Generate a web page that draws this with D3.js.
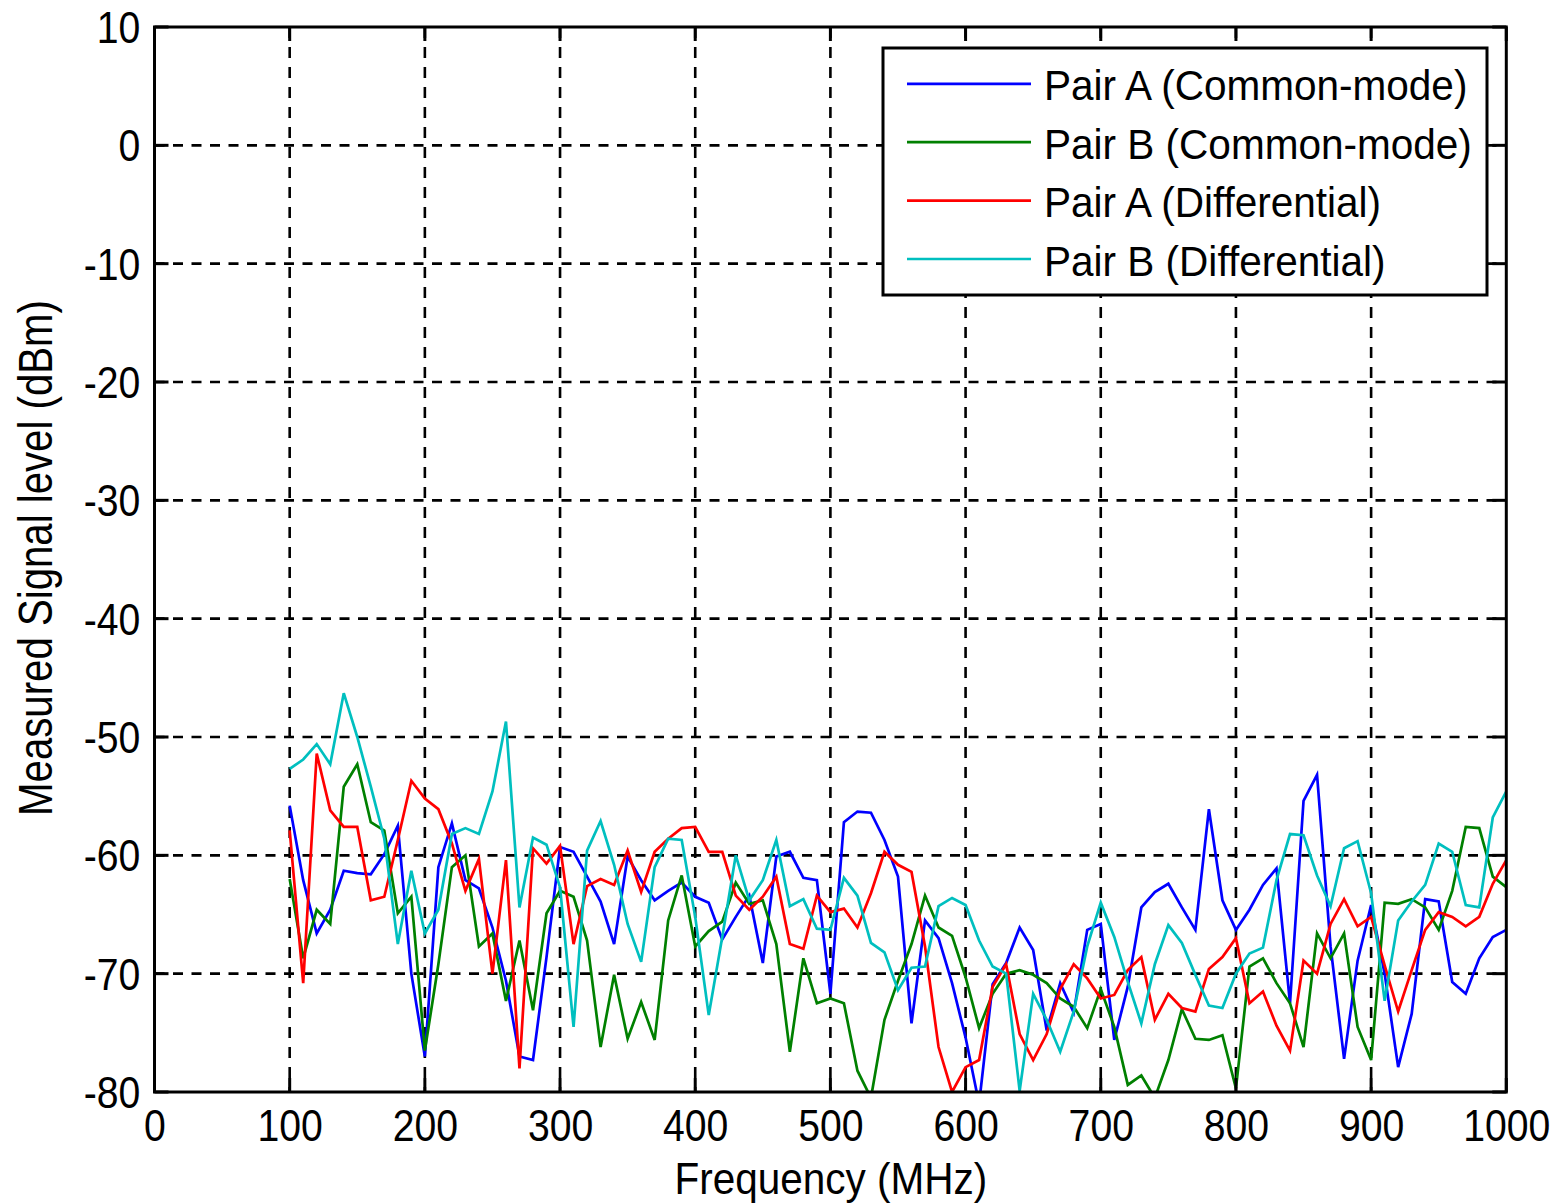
<!DOCTYPE html>
<html>
<head>
<meta charset="utf-8">
<script src="https://cdn.jsdelivr.net/npm/d3@7"></script>
<style>
  html, body { margin: 0; padding: 0; background: #ffffff; }
  svg { display: block; font-family: Arial, "Liberation Sans", Helvetica, sans-serif; }
</style>
</head>
<body>
<svg id="chart" width="1556" height="1203"></svg>
<script>
// ---------------- data ----------------
const frequencies = [100,110,120,130,140,150,160,170,180,190,200,210,220,230,240,250,260,270,280,290,
  300,310,320,330,340,350,360,370,380,390,400,410,420,430,440,450,460,470,480,490,
  500,510,520,530,540,550,560,570,580,590,600,610,620,630,640,650,660,670,680,690,
  700,710,720,730,740,750,760,770,780,790,800,810,820,830,840,850,860,870,880,890,
  900,910,920,930,940,950,960,970,980,990,1000];

const pairACommon = [-55.8,-62.1,-66.6,-64.6,-61.3,-61.5,-61.6,-59.9,-57.5,-70.0,-77.0,-61.0,-57.3,-62.1,-62.8,-66.1,-70.6,-77.0,-77.3,-68.6,
  -59.3,-59.7,-61.8,-63.9,-67.5,-60.1,-62.1,-63.8,-63.0,-62.3,-63.5,-64.0,-67.1,-65.2,-63.4,-69.1,-60.1,-59.7,-61.9,-62.1,
  -71.7,-57.2,-56.3,-56.4,-58.7,-61.8,-74.2,-65.5,-67.0,-70.8,-75.4,-81.0,-70.9,-69.1,-66.1,-68.0,-74.8,-70.8,-73.3,-66.3,
  -65.8,-75.6,-71.1,-64.4,-63.1,-62.4,-64.4,-66.3,-56.1,-63.8,-66.3,-64.6,-62.5,-61.1,-72.5,-55.4,-53.2,-67.7,-77.2,-68.9,
  -64.2,-70.0,-77.9,-73.4,-63.7,-63.9,-70.7,-71.7,-68.7,-66.9,-66.3];

const pairBCommon = [-62.0,-68.7,-64.6,-65.8,-54.2,-52.3,-57.2,-57.9,-64.9,-63.5,-76.5,-69.2,-61.0,-60.0,-67.7,-66.6,-72.3,-67.2,-73.1,-64.9,
  -63.0,-63.5,-67.2,-76.2,-70.1,-75.5,-72.4,-75.6,-65.5,-61.7,-67.7,-66.4,-65.6,-62.3,-64.1,-63.8,-67.5,-76.6,-68.7,-72.5,
  -72.1,-72.5,-78.2,-80.5,-73.9,-70.6,-67.5,-63.4,-66.1,-66.8,-70.3,-74.6,-71.7,-70.0,-69.7,-70.1,-70.8,-72.1,-72.8,-74.6,
  -71.3,-74.5,-79.4,-78.6,-80.5,-77.3,-73.0,-75.5,-75.6,-75.2,-79.7,-69.4,-68.7,-70.8,-72.5,-76.2,-66.6,-68.7,-66.6,-74.5,
  -77.3,-64.0,-64.1,-63.7,-64.4,-66.3,-63.0,-57.6,-57.7,-61.8,-62.7];

const pairADiff = [-57.9,-70.8,-51.4,-56.2,-57.6,-57.6,-63.8,-63.5,-58.7,-53.7,-55.2,-56.1,-59.0,-63.0,-60.3,-70.0,-60.4,-78.0,-59.4,-60.7,
  -59.2,-67.5,-62.6,-62.0,-62.5,-59.6,-63.1,-59.7,-58.6,-57.7,-57.6,-59.7,-59.7,-63.4,-64.6,-63.5,-61.8,-67.5,-67.9,-63.4,
  -64.8,-64.5,-66.1,-63.2,-59.7,-60.8,-61.4,-67.7,-76.2,-80.0,-77.9,-77.3,-71.1,-69.2,-75.1,-77.3,-75.1,-71.3,-69.2,-70.4,
  -72.1,-71.8,-69.7,-68.6,-73.9,-71.7,-72.9,-73.2,-69.6,-68.6,-67.0,-72.5,-71.5,-74.4,-76.5,-68.9,-70.0,-65.8,-63.7,-66.0,
  -65.2,-69.3,-73.2,-69.7,-66.3,-64.8,-65.2,-66.0,-65.2,-62.4,-60.4];

const pairBDiff = [-52.7,-51.9,-50.6,-52.3,-46.3,-50.0,-54.2,-58.6,-67.5,-61.3,-66.6,-64.6,-58.2,-57.7,-58.2,-54.6,-48.7,-64.4,-58.5,-59.1,
  -62.7,-74.5,-59.6,-57.1,-60.8,-65.8,-69.0,-61.0,-58.6,-58.7,-65.2,-73.5,-66.9,-60.0,-63.8,-62.1,-58.7,-64.3,-63.7,-66.2,
  -66.3,-61.9,-63.4,-67.4,-68.2,-71.4,-69.5,-69.4,-64.3,-63.6,-64.2,-67.2,-69.4,-70.0,-79.9,-71.7,-73.9,-76.6,-73.2,-67.7,
  -64.0,-66.9,-70.7,-74.2,-69.2,-65.9,-67.4,-70.1,-72.7,-72.9,-70.0,-68.3,-67.8,-62.1,-58.2,-58.3,-61.7,-64.3,-59.4,-58.8,
  -63.2,-72.3,-65.5,-63.9,-62.5,-59.0,-59.7,-64.2,-64.4,-56.8,-54.6];

const seriesNames = ["Pair A (Common-mode)", "Pair B (Common-mode)", "Pair A (Differential)", "Pair B (Differential)"];
const seriesValues = [pairACommon, pairBCommon, pairADiff, pairBDiff];
const seriesColors = ["#0000ff", "#008000", "#ff0000", "#00bfbf"];

const xTickValues = [0,100,200,300,400,500,600,700,800,900,1000];
const yTickValues = [10,0,-10,-20,-30,-40,-50,-60,-70,-80];
const xDomain = [0, 1000];
const yDomain = [-80, 10];
const xAxisTitle = "Frequency (MHz)";
const yAxisTitle = "Measured Signal level (dBm)";

// ---------------- layout ----------------
const L = 154.5, R = 1506.3, T = 27, B = 1092;
const svg = d3.select("#chart");
const x = d3.scaleLinear().domain(xDomain).range([L, R]);
const y = d3.scaleLinear().domain(yDomain).range([B, T]);

svg.append("rect").attr("width", 1556).attr("height", 1203).attr("fill", "#fff");

svg.append("defs").append("clipPath").attr("id", "plotClip")
  .append("rect").attr("x", L).attr("y", T).attr("width", R - L).attr("height", B - T);

// grid lines
const grid = svg.append("g").attr("class", "grid");
grid.selectAll("line.vg").data(xTickValues.filter(d => d > xDomain[0] && d < xDomain[1])).enter()
  .append("line").attr("class", "vg")
  .attr("x1", d => x(d)).attr("x2", d => x(d)).attr("y1", T).attr("y2", B)
  .attr("stroke", "#000").attr("stroke-width", 2.6).attr("stroke-dasharray", "11,9");
grid.selectAll("line.hg").data(yTickValues.filter(d => d > yDomain[0] && d < yDomain[1])).enter()
  .append("line").attr("class", "hg")
  .attr("x1", L).attr("x2", R).attr("y1", d => y(d)).attr("y2", d => y(d))
  .attr("stroke", "#000").attr("stroke-width", 2.6).attr("stroke-dasharray", "10,8.5");

// data lines
const line = d3.line().x((d, i) => x(frequencies[i])).y(d => y(d));
const lines = svg.append("g").attr("clip-path", "url(#plotClip)");
seriesValues.forEach((vals, k) => {
  lines.append("path").datum(vals)
    .attr("d", line)
    .attr("fill", "none")
    .attr("stroke", seriesColors[k])
    .attr("stroke-width", 2.7)
    .attr("stroke-linejoin", "miter");
});

// frame
svg.append("rect").attr("x", L).attr("y", T).attr("width", R - L).attr("height", B - T)
  .attr("fill", "none").attr("stroke", "#000").attr("stroke-width", 3);

// inward tick marks on all four sides
const tickLen = 14;
const ticks = svg.append("g").attr("stroke", "#000").attr("stroke-width", 3);
xTickValues.forEach(v => {
  ticks.append("line").attr("x1", x(v)).attr("x2", x(v)).attr("y1", B).attr("y2", B - tickLen);
  ticks.append("line").attr("x1", x(v)).attr("x2", x(v)).attr("y1", T).attr("y2", T + tickLen);
});
yTickValues.forEach(v => {
  ticks.append("line").attr("x1", L).attr("x2", L + tickLen).attr("y1", y(v)).attr("y2", y(v));
  ticks.append("line").attr("x1", R).attr("x2", R - tickLen).attr("y1", y(v)).attr("y2", y(v));
});

// axes labels via d3 axes (plain hyphen minus, as in the reference)
const plainFormat = d => String(d);
const xAxis = svg.append("g").attr("transform", `translate(0,${B})`)
  .call(d3.axisBottom(x).tickValues(xTickValues).tickFormat(plainFormat).tickSize(0).tickPadding(18));
xAxis.select(".domain").remove();
xAxis.selectAll("text").attr("font-size", 44).attr("fill", "#000")
  .attr("font-family", "Arial, 'Liberation Sans', sans-serif")
  .attr("transform", "scale(0.89,1)");

const yAxis = svg.append("g").attr("transform", `translate(${L},0)`)
  .call(d3.axisLeft(y).tickValues(yTickValues).tickFormat(plainFormat).tickSize(0).tickPadding(16));
yAxis.select(".domain").remove();
yAxis.selectAll("text").attr("font-size", 44).attr("fill", "#000")
  .attr("font-family", "Arial, 'Liberation Sans', sans-serif")
  .attr("dy", "0.35em")
  .attr("transform", "scale(0.89,1)");

// helper for scaled text
function scaledText(px, py, str, size, sx, anchor, rot) {
  const g = svg.append("g").attr("transform", `translate(${px},${py}) rotate(${rot || 0}) scale(${sx},1)`);
  return g.append("text").attr("x", 0).attr("y", 0).attr("font-size", size)
    .attr("text-anchor", anchor).attr("fill", "#000").text(str);
}

scaledText((L + R) / 2 + 0.5, 1194, xAxisTitle, 45, 0.9, "middle", 0);
scaledText(52, 558, yAxisTitle, 49, 0.82, "middle", -90);

// legend
const legX = 883, legY = 48, legW = 604, legH = 247;
svg.append("rect").attr("x", legX).attr("y", legY).attr("width", legW).attr("height", legH)
  .attr("fill", "#fff").attr("stroke", "#000").attr("stroke-width", 3);
seriesNames.forEach((name, k) => {
  const ly = 83.8 + k * 58.4;
  svg.append("line").attr("x1", 907).attr("x2", 1031).attr("y1", ly).attr("y2", ly)
    .attr("stroke", seriesColors[k]).attr("stroke-width", 2.7);
  scaledText(1044, ly + 16.5, name, 42, 0.965, "start", 0);
});
</script>
</body>
</html>
